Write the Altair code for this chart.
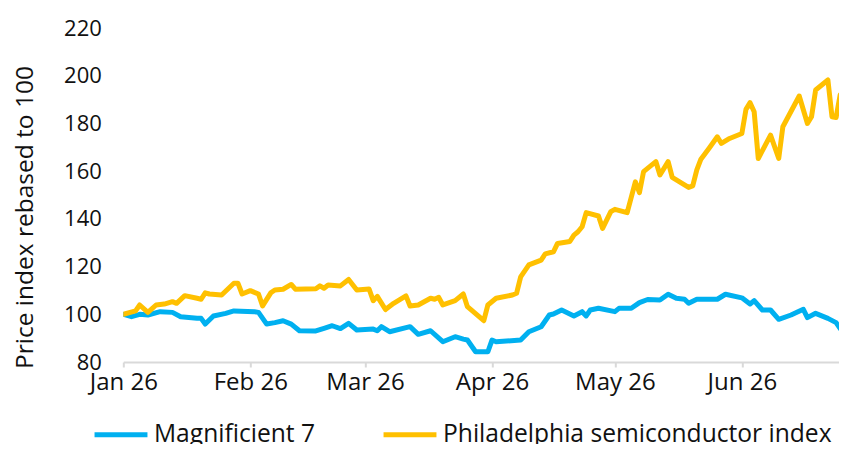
import altair as alt
import pandas as pd

# ---- data ----
series_names = ["Magnificient 7", "Philadelphia semiconductor index"]

mag7_dates = [
    "2026-01-01", "2026-01-03", "2026-01-05", "2026-01-07", "2026-01-10", "2026-01-13",
    "2026-01-15", "2026-01-19", "2026-01-20", "2026-01-21", "2026-01-23", "2026-01-26",
    "2026-01-28", "2026-02-02", "2026-02-03", "2026-02-05", "2026-02-07", "2026-02-09",
    "2026-02-11", "2026-02-13", "2026-02-17", "2026-02-19", "2026-02-21", "2026-02-23",
    "2026-02-25", "2026-02-27", "2026-03-03", "2026-03-04", "2026-03-05", "2026-03-07",
    "2026-03-12", "2026-03-14", "2026-03-17", "2026-03-20", "2026-03-23", "2026-03-25",
    "2026-03-26", "2026-03-28", "2026-03-31", "2026-04-01", "2026-04-02", "2026-04-08",
    "2026-04-10", "2026-04-13", "2026-04-15", "2026-04-16", "2026-04-18", "2026-04-21",
    "2026-04-23", "2026-04-24", "2026-04-25", "2026-04-27", "2026-05-01", "2026-05-02",
    "2026-05-05", "2026-05-07", "2026-05-09", "2026-05-12", "2026-05-14", "2026-05-16",
    "2026-05-18", "2026-05-19", "2026-05-21", "2026-05-26", "2026-05-28", "2026-06-01",
    "2026-06-03", "2026-06-04", "2026-06-06", "2026-06-08", "2026-06-10", "2026-06-13",
    "2026-06-16", "2026-06-17", "2026-06-19", "2026-06-22", "2026-06-24", "2026-06-25",
]
mag7_values = [
    100.0, 99.0, 100.0, 99.7, 101.1, 100.8,
    99.0, 98.3, 98.3, 95.9, 99.3, 100.4,
    101.4, 101.1, 100.8, 95.9, 96.5, 97.3,
    95.9, 93.1, 93.0, 94.1, 95.2, 94.0,
    96.2, 93.4, 93.8, 93.1, 94.8, 92.7,
    94.8, 91.6, 93.1, 88.5, 90.6, 89.6,
    89.2, 84.3, 84.3, 89.2, 88.5, 89.2,
    92.7, 94.8, 99.7, 100.1, 101.8, 99.3,
    101.1, 99.3, 101.8, 102.5, 101.1, 102.5,
    102.5, 104.9, 106.2, 106.0, 108.4, 106.7,
    106.3, 104.6, 106.3, 106.3, 108.4, 106.9,
    104.3, 105.7, 101.8, 101.8, 97.9, 99.7,
    102.1, 98.6, 100.4, 98.3, 96.5, 94.0,
]

sox_dates = [
    "2026-01-01", "2026-01-04", "2026-01-05", "2026-01-07", "2026-01-09", "2026-01-11",
    "2026-01-13", "2026-01-14", "2026-01-16", "2026-01-19", "2026-01-20", "2026-01-21",
    "2026-01-22", "2026-01-25", "2026-01-28", "2026-01-29", "2026-01-30", "2026-02-01",
    "2026-02-03", "2026-02-04", "2026-02-06", "2026-02-07", "2026-02-09", "2026-02-11",
    "2026-02-12", "2026-02-17", "2026-02-18", "2026-02-19", "2026-02-20", "2026-02-23",
    "2026-02-25", "2026-02-27", "2026-03-02", "2026-03-03", "2026-03-04", "2026-03-06",
    "2026-03-08", "2026-03-11", "2026-03-12", "2026-03-14", "2026-03-17", "2026-03-18",
    "2026-03-19", "2026-03-20", "2026-03-23", "2026-03-25", "2026-03-26", "2026-03-30",
    "2026-03-31", "2026-04-02", "2026-04-06", "2026-04-07", "2026-04-08", "2026-04-10",
    "2026-04-13", "2026-04-14", "2026-04-16", "2026-04-17", "2026-04-20", "2026-04-21",
    "2026-04-22", "2026-04-23", "2026-04-24", "2026-04-27", "2026-04-28", "2026-04-30",
    "2026-05-01", "2026-05-04", "2026-05-06", "2026-05-07", "2026-05-08", "2026-05-11",
    "2026-05-12", "2026-05-14", "2026-05-15", "2026-05-19", "2026-05-20", "2026-05-21",
    "2026-05-22", "2026-05-24", "2026-05-26", "2026-05-27", "2026-05-29", "2026-06-01",
    "2026-06-02", "2026-06-03", "2026-06-04", "2026-06-05", "2026-06-08", "2026-06-10",
    "2026-06-11", "2026-06-15", "2026-06-17", "2026-06-18", "2026-06-19", "2026-06-22",
    "2026-06-23", "2026-06-24", "2026-06-25",
]
sox_values = [
    100.0, 101.4, 103.9, 100.8, 103.9, 104.3,
    105.3, 104.6, 107.8, 106.7, 106.3, 109.0,
    108.5, 108.1, 113.0, 113.0, 108.5, 109.9,
    108.5, 103.5, 109.0, 110.2, 110.5, 112.5,
    110.5, 110.7, 111.9, 110.9, 112.3, 111.9,
    114.6, 110.2, 110.6, 105.7, 107.5, 102.0,
    104.6, 107.7, 103.5, 103.9, 106.7, 106.3,
    107.1, 103.9, 105.7, 108.5, 103.2, 97.3,
    103.9, 106.7, 108.1, 108.8, 115.7, 120.7,
    122.7, 125.3, 126.2, 129.7, 130.5, 133.2,
    134.6, 136.7, 142.6, 141.2, 136.0, 143.0,
    144.0, 142.6, 155.5, 151.0, 159.8, 164.0,
    158.4, 164.0, 157.4, 153.2, 153.8, 160.5,
    165.0, 169.6, 174.4, 171.6, 173.7, 175.8,
    185.9, 188.7, 184.9, 165.3, 175.1, 165.3,
    178.6, 191.5, 180.0, 182.8, 194.0, 198.2,
    182.8, 182.5, 192.0,
]

y_ticks = [80, 100, 120, 140, 160, 180, 200, 220]
series_colors = ["#00b0f0", "#ffc000"]

df = pd.concat([
    pd.DataFrame({"date": pd.to_datetime(mag7_dates), "value": mag7_values, "series": series_names[0]}),
    pd.DataFrame({"date": pd.to_datetime(sox_dates), "value": sox_values, "series": series_names[1]}),
])

FONT = "Open Sans"
month_ticks = [alt.DateTime(year=2026, month=m, date=1) for m in range(1, 7)]

chart = alt.Chart(df).mark_line(
    strokeWidth=5, strokeJoin="round", strokeCap="round", clip=True
).encode(
    x=alt.X(
        "date:T",
        scale=alt.Scale(domain=[alt.DateTime(year=2026, month=1, date=1),
                                alt.DateTime(year=2026, month=6, date=24, hours=17)]),
        axis=alt.Axis(
            title=None, values=month_ticks, format="%b %y", grid=False,
            domainColor="#d9d9d9", domainWidth=2, tickColor="#d9d9d9", tickWidth=2,
            tickSize=5, labelPadding=3, labelFontSize=24, labelFont=FONT,
            labelColor="#111111", labelFlush=False,
        ),
    ),
    y=alt.Y(
        "value:Q",
        scale=alt.Scale(domain=[80, 220], nice=False, zero=False),
        axis=alt.Axis(
            title="Price index rebased to 100", values=y_ticks, grid=False,
            domain=False, ticks=False, tickSize=0, labelPadding=22,
            labelFontSize=22, labelFont=FONT, labelColor="#111111",
            titleFontSize=24.5, titleFont=FONT, titleColor="#111111",
            titleFontWeight="normal", titleX=-98, titleY=189,
            titleBaseline="middle", titleAlign="center", titleAngle=-90,
        ),
    ),
    color=alt.Color(
        "series:N",
        scale=alt.Scale(domain=series_names, range=series_colors),
        legend=alt.Legend(
            title=None, orient="none", legendX=-31.3, legendY=377.5,
            direction="horizontal", columns=2, symbolType="stroke",
            symbolSize=2800, symbolStrokeWidth=5, labelFontSize=24.6,
            labelFont=FONT, labelColor="#111111", labelOffset=4,
            columnPadding=57, padding=0, labelLimit=500,
        ),
    ),
).properties(
    width=715.7,
    height=334,
    padding={"left": 115.3, "top": 20, "right": 0, "bottom": 82},
    autosize=alt.AutoSizeParams(type="none"),
).configure_view(stroke=None)

chart.save("out.html", embed_options={"renderer": "svg", "actions": False})
